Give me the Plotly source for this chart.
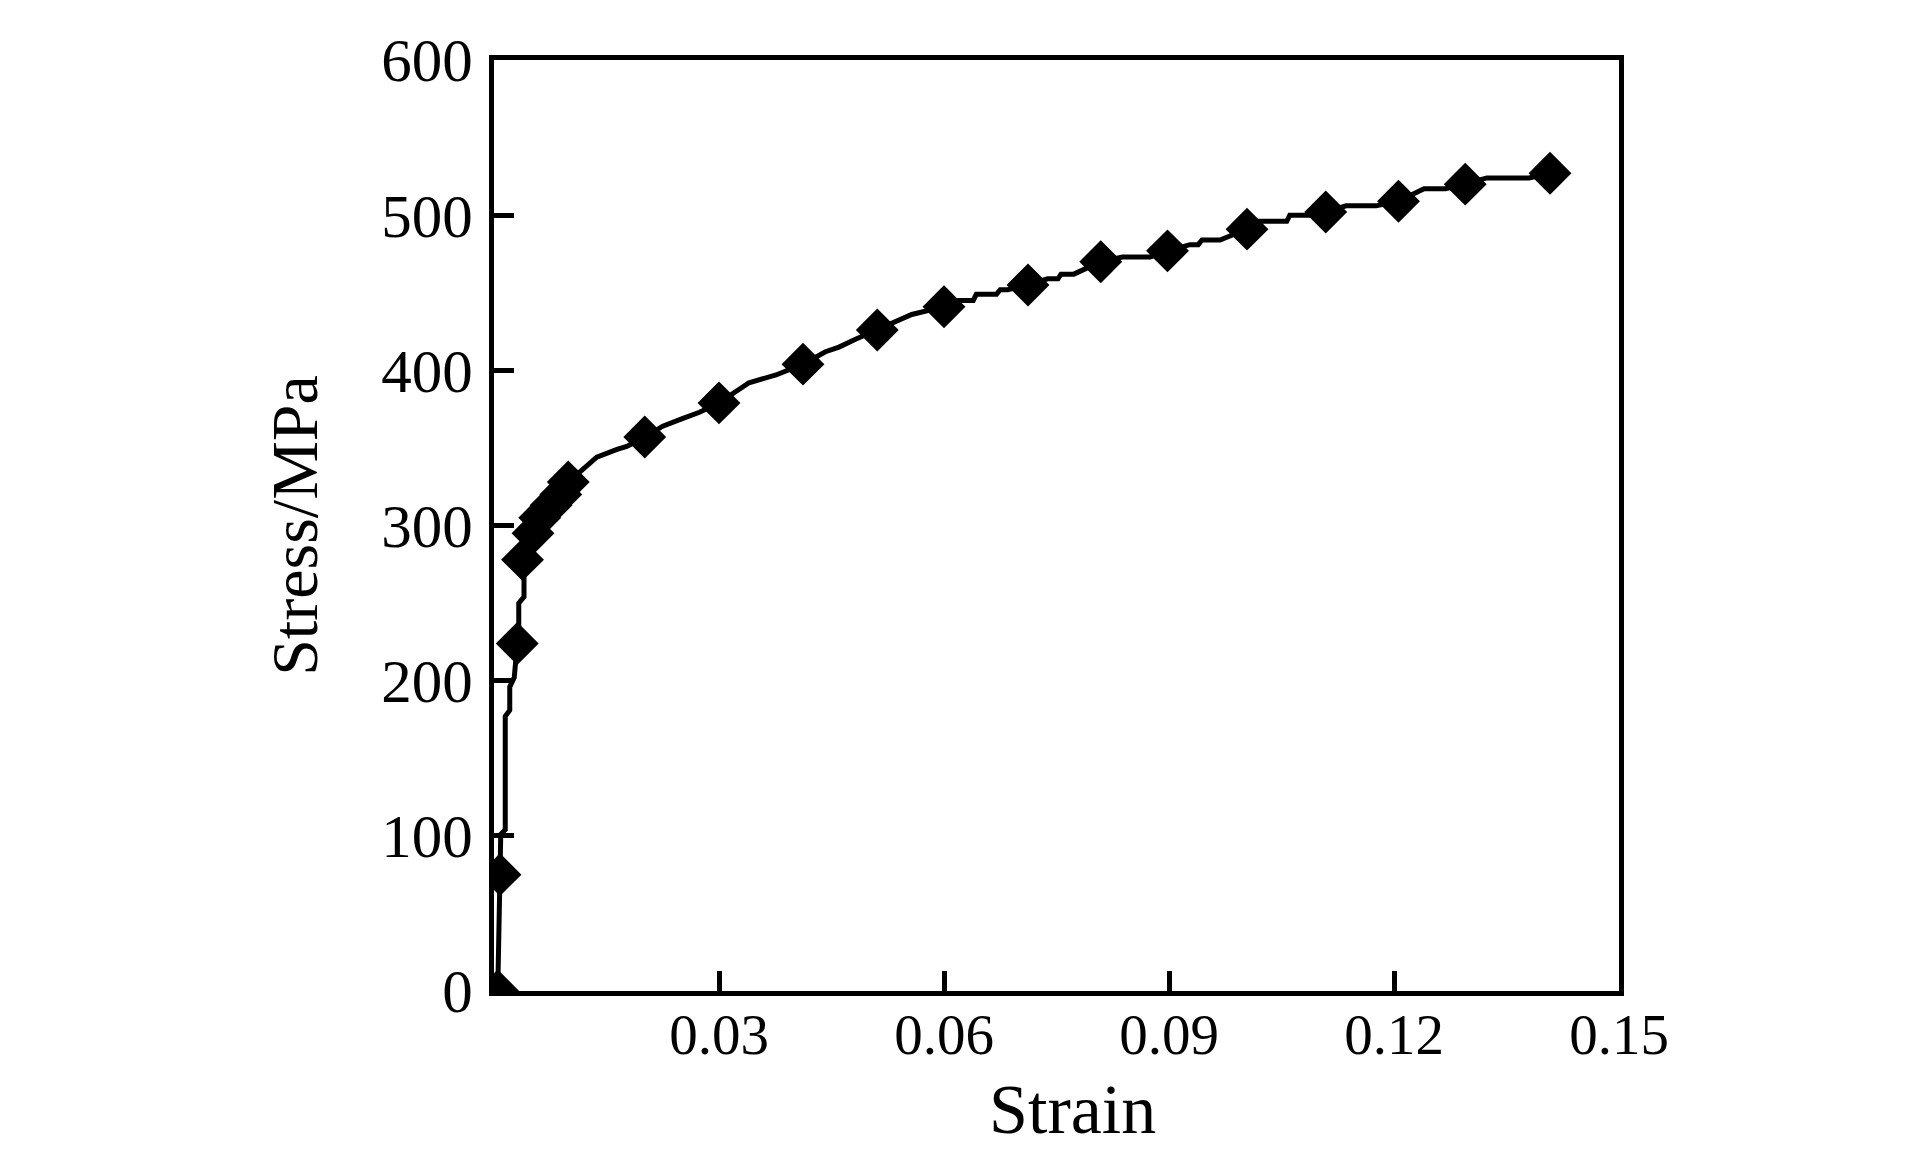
import plotly.graph_objects as go

# Marker points (strain, stress in MPa)
marker_strain = [0.0005, 0.0008, 0.0031, 0.0038, 0.0052, 0.0061, 0.0076, 0.0089, 0.0099,
                 0.0201, 0.0300, 0.0412, 0.0511, 0.0600, 0.0712, 0.0809, 0.0898, 0.1004,
                 0.1109, 0.1206, 0.1295, 0.1408]
marker_stress = [0, 75, 224, 278, 295, 305, 313, 320, 328,
                 357, 379, 404, 426, 441, 455, 470, 477, 491,
                 502, 509, 520, 527]

line_strain = [0.0005, 0.0008, 0.0009, 0.0015, 0.0015, 0.0021, 0.0021, 0.0027, 0.0031,
               0.0033, 0.0033, 0.0040, 0.0040, 0.0038, 0.0052, 0.0061, 0.0076, 0.0089, 0.0099,
               0.0119, 0.0137, 0.0164, 0.0177, 0.0201,
               0.0225, 0.0252, 0.0274, 0.0300,
               0.0323, 0.0340, 0.0376, 0.0412,
               0.0442, 0.0460, 0.0482, 0.0511,
               0.0548, 0.0557, 0.0600,
               0.0619, 0.0639, 0.0643, 0.0670, 0.0675, 0.0685, 0.0712,
               0.0738, 0.0752, 0.0756, 0.0773, 0.0809,
               0.0838, 0.0875, 0.0898,
               0.0928, 0.0939, 0.0944, 0.0968, 0.1004,
               0.1020, 0.1057, 0.1061, 0.1090, 0.1109,
               0.1136, 0.1176, 0.1206,
               0.1240, 0.1269, 0.1295,
               0.1324, 0.1380, 0.1408]
line_stress = [0, 75, 101, 104, 177, 181, 196, 202, 224,
               235, 250, 254, 267, 278, 295, 305, 313, 320, 328,
               336, 344, 349, 351, 357,
               364, 369, 373, 379,
               387, 392, 397, 404,
               412, 415, 420, 426,
               434, 436, 441,
               445, 445, 449, 449, 452, 452, 455,
               459, 459, 462, 462, 470,
               473, 473, 477,
               481, 481, 484, 484, 491,
               496, 496, 500, 500, 502,
               506, 506, 509,
               517, 517, 520,
               524, 524, 527]

x_tickvals = [0.03, 0.06, 0.09, 0.12, 0.15]
x_ticktext = ["0.03", "0.06", "0.09", "0.12", "0.15"]
y_tickvals = [0, 100, 200, 300, 400, 500, 600]
y_ticktext = ["0", "100", "200", "300", "400", "500", "600"]
x_title = "Strain"
y_title = "Stress/MPa"

FONT = "Liberation Serif, Times New Roman, serif"

fig = go.Figure()
fig.add_trace(go.Scatter(x=line_strain, y=line_stress, mode="lines",
                         line=dict(color="black", width=5), showlegend=False,
                         hoverinfo="skip"))
fig.add_trace(go.Scatter(x=marker_strain, y=marker_stress, mode="markers",
                         marker=dict(symbol="diamond", size=33, color="black"),
                         showlegend=False))

axis_common = dict(showline=True, linecolor="black", linewidth=5, mirror=True,
                   ticks="inside", ticklen=20, tickwidth=5, tickcolor="black",
                   showgrid=False, zeroline=False)

fig.update_xaxes(range=[0, 0.15], tickvals=x_tickvals, ticktext=x_ticktext,
                 tickfont=dict(family=FONT, size=57, color="black"),
                 ticklabelstandoff=-10,
                 **axis_common)
fig.update_yaxes(range=[0, 600], tickvals=y_tickvals, ticktext=y_ticktext,
                 tickfont=dict(family=FONT, size=61, color="black"),
                 ticklabelstandoff=4,
                 title=dict(text=y_title, font=dict(family=FONT, size=66, color="black"),
                            standoff=44),
                 **axis_common)

fig.add_annotation(text=x_title, xref="paper", yref="paper", x=0.5146, y=0,
                   xanchor="center", yanchor="top", yshift=-78, showarrow=False,
                   font=dict(family=FONT, size=70, color="black"))

fig.update_layout(width=1923, height=1169,
                  margin=dict(l=486, r=312, t=52, b=186),
                  paper_bgcolor="white", plot_bgcolor="white",
                  font=dict(family=FONT, color="black"))

fig.write_html("out.html")
